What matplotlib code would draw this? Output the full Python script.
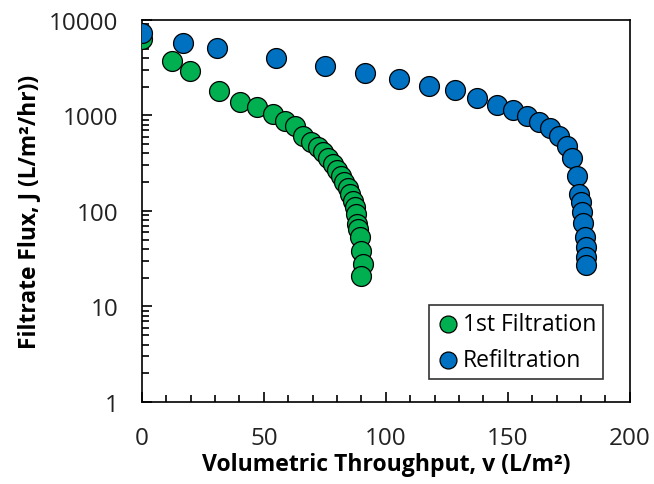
import matplotlib
matplotlib.use("Agg")
import matplotlib.pyplot as plt
from matplotlib.ticker import FixedLocator, FuncFormatter, LogLocator, MultipleLocator, NullFormatter

# Data
first_v = [0, 12.2, 19.8, 31.7, 40.4, 47.1, 53.6, 58.6, 62.7, 66.0, 69.3, 72.1, 74.2,
           76.2, 78.3, 79.9, 81.6, 83.0, 84.3, 85.5, 86.5, 87.3, 87.7, 88.1, 88.6,
           89.3, 89.8, 90.5, 90.0]
first_J = [6310, 3750, 2900, 1820, 1375, 1230, 1040, 875, 776, 610, 525, 465, 412,
           355, 310, 268, 233, 201, 174, 149, 127, 110, 93, 73, 65, 53, 38, 28, 21]

refilt_v = [0, 16.9, 30.6, 54.9, 74.9, 91.4, 105.5, 117.8, 128.3, 137.4, 145.4, 152.2,
            157.9, 162.8, 167.2, 171.0, 174.3, 176.4, 178.2, 179.2, 179.9, 180.5,
            180.9, 181.6, 182.0, 182.2, 182.2]
refilt_J = [7310, 5750, 5090, 3980, 3270, 2790, 2410, 2020, 1850, 1510, 1300, 1140,
            995, 861, 745, 615, 483, 356, 231, 151, 123, 97, 75, 53, 42, 33, 27]

series_labels = ["1st Filtration", "Refiltration"]
x_ticks = [0, 50, 100, 150, 200]
y_ticks = [1, 10, 100, 1000, 10000]

plt.rcParams['font.family'] = ['Open Sans', 'DejaVu Sans']

fig = plt.figure(figsize=(6.54, 4.85), dpi=100)
ax = fig.add_axes([0.217, 0.169, 0.746, 0.788])

green = "#00B050"
blue = "#0070C0"
ms = 205
ax.scatter(first_v, first_J, s=ms, c=green, edgecolors="black", linewidths=0.9,
           label=series_labels[0], zorder=3)
ax.scatter(refilt_v, refilt_J, s=ms, c=blue, edgecolors="black", linewidths=0.9,
           label=series_labels[1], zorder=4)

ax.set_yscale("log")
ax.set_xlim(0, 200)
ax.set_ylim(1, 10000)
ax.xaxis.set_major_locator(FixedLocator(x_ticks))
ax.xaxis.set_minor_locator(MultipleLocator(10))
ax.yaxis.set_major_locator(FixedLocator(y_ticks))
ax.yaxis.set_minor_locator(LogLocator(base=10, subs=range(2, 10)))
ax.yaxis.set_major_formatter(FuncFormatter(lambda v, p: f"{int(round(v))}"))
ax.yaxis.set_minor_formatter(NullFormatter())

ax.tick_params(axis="both", which="major", direction="in", length=7, width=1.2,
               labelsize=17.5, colors="black", labelcolor="#222222")
ax.tick_params(axis="x", which="major", pad=17)
ax.tick_params(axis="y", which="major", pad=17)
ax.tick_params(axis="both", which="minor", direction="in", length=5, width=1.2)
ax.tick_params(top=False, right=False, which="both")
for s in ax.spines.values():
    s.set_linewidth(1.2)
    s.set_color("black")

ax.set_xlabel("Volumetric Throughput, v (L/m²)", fontsize=16.6, fontweight="bold",
              labelpad=2)
ax.set_ylabel("Filtrate Flux, J (L/m²/hr))", fontsize=16.4, fontweight="bold",
              labelpad=6)

leg = ax.legend(loc="lower right", bbox_to_anchor=(0.945, 0.06), fontsize=16.5,
                frameon=True, fancybox=False, edgecolor="black", borderpad=0.3,
                handlelength=1.0, handletextpad=0.15, labelspacing=0.55,
                markerscale=0.85, borderaxespad=0)
leg.get_frame().set_linewidth(1.2)

fig.savefig("out.png", dpi=100)
